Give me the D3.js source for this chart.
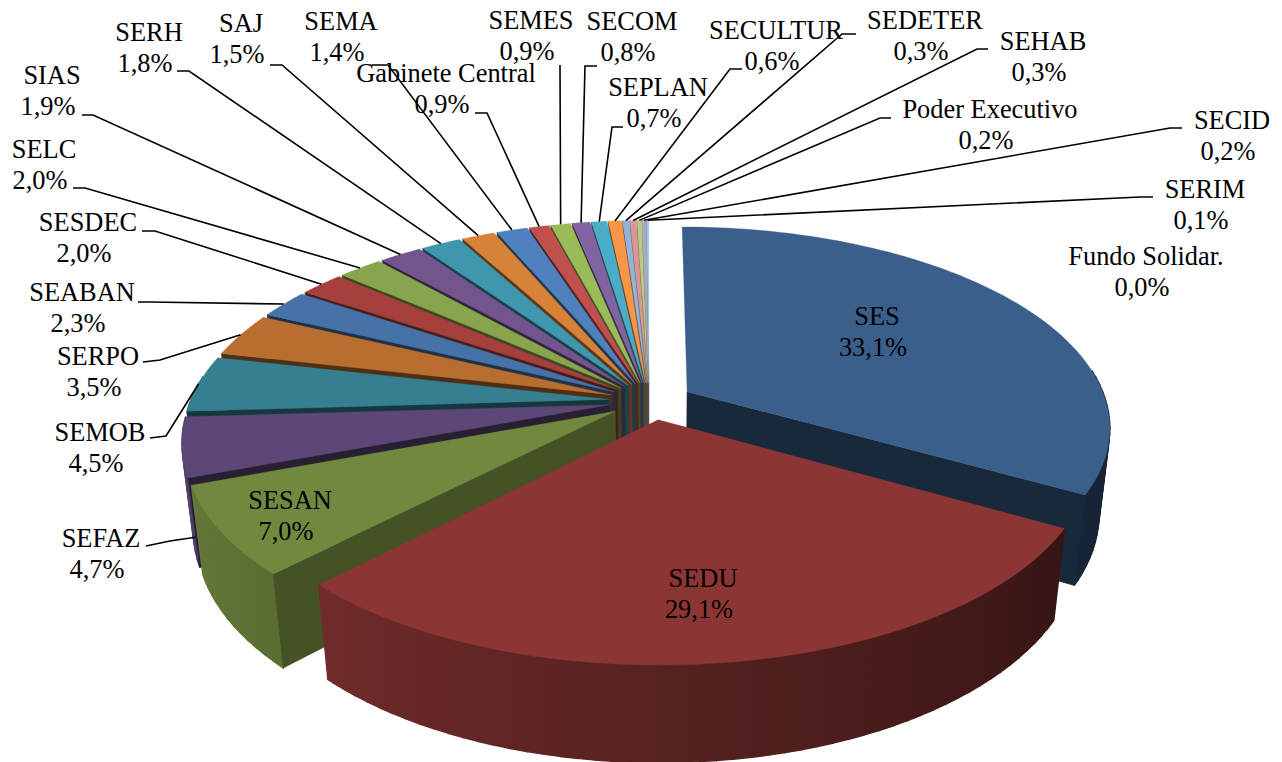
<!DOCTYPE html>
<html>
<head>
<meta charset="utf-8">
<script src="https://cdn.jsdelivr.net/npm/d3@7"></script>
<style>
  html, body { margin: 0; padding: 0; background: #fff; overflow: hidden; }
  text { font-family: "Liberation Serif", serif; font-size: 26.4px; fill: #000; text-anchor: middle; }
</style>
</head>
<body>
<div id="chart"></div>
<script>
// Chart data
var names = ["SES", "SEDU", "SESAN", "SEFAZ", "SEMOB", "SERPO", "SEABAN", "SESDEC", "SELC", "SIAS", "SERH", "SAJ",
  "SEMA", "Gabinete Central", "SEMES", "SECOM", "SEPLAN", "SECULTUR", "SEDETER", "SEHAB", "Poder Executivo",
  "SECID", "SERIM", "Fundo Solidar."];
var values = [33.1, 29.1, 7.0, 4.7, 4.5, 3.5, 2.3, 2.0, 2.0, 1.9, 1.8, 1.5, 1.4, 0.9, 0.9, 0.8, 0.7, 0.6, 0.3, 0.3, 0.2, 0.2, 0.1, 0.0];
var colors = ["#3a5f8b", "#8b3635", "#71893f", "#5c4776", "#357f91", "#b86e2f", "#4672a8", "#a5403d", "#88a44c", "#72558f",
  "#3f97ae", "#d68239", "#4f81bd", "#c0504d", "#9bbb59", "#8064a2", "#4bacc6", "#f79646", "#95b3d7", "#d99694",
  "#b3cc82", "#b2a2c7", "#92cddc", "#fac090"];

// Where each label sits (centre x, first baseline y)
var labelX = [877, 703, 290, 101, 100, 98, 82, 88, 44, 52, 149, 241, 341, 446, 531, 632, 658, 776, 925, 1043, 990, 1232, 1205, 1146];
var labelY = [325, 587, 509, 547, 441, 365, 301, 231, 158, 84, 41, 32, 30, 82, 29, 30, 96, 39, 29, 50, 118, 129, 198, 265];

// Leader lines: start of the little horizontal bit and the elbow. null = no leader
var leaders = [null, null, null,
  [146, 546, 170, 541], [150, 438, 166, 436], [143, 362, 160, 360], [138, 302, 150, 302], [142, 231, 155, 231],
  [73, 188, 85, 188], [82, 115, 93, 115], [177, 71, 189, 71], [270, 65, 282, 65], [372, 65, 388, 65],
  [475, 113, 487, 113], [560, 65, 560, 66], [597, 66, 585, 66], [623, 127, 612, 127], [742, 69, 730, 69],
  [856, 34, 842, 34], [988, 49, 977, 49], [891, 118, 880, 118], [1182, 128, 1170, 128], [1153, 197, 1140, 197], null];

var svgWidth = 1282;
var svgHeight = 762;

// 3D pie setup: centre, radii, perspective, thickness, explosion
var cx = 649, cy = 401, radiusX = 419, radiusY = 196;
var camera = 5.83, camDrop = 0.14, thickness = 88, explode = 0.095;

var svg = d3.select("#chart")
  .append("svg")
  .attr("width", svgWidth)
  .attr("height", svgHeight);

var defs = svg.append("defs");

var pie = d3.pie().sort(null).value(d => d);
var arcs = pie(values);

// Project a point of a slice on the screen. z=0 is the top face, z=1 the bottom
function project(d, angle, r, z) {
  var mid = (d.startAngle + d.endAngle) / 2;
  var X = r * Math.sin(angle) + explode * Math.sin(mid);
  var Y = -r * Math.cos(angle) - explode * Math.cos(mid);
  var s = camera / (camera - Y + camDrop * z);
  // the two big slices sit a few pixels further right
  var nudge = d.index === 0 ? 4 : d.index === 1 ? 3.5 : 0;
  return [cx + nudge + radiusX * X * s, cy + (radiusY * Y + thickness * z) * s];
}

function darken(color, k) {
  return d3.interpolateRgb("#000", color)(k);
}

// Outer wall shade follows the angle, as the light comes from the left
var wallShade = d3.scaleLinear()
  .domain([119, 224, 270])
  .range([0.38, 0.8, 0.95])
  .clamp(true);

var line = d3.line();

function face(g, pts, fill, strokeWidth) {
  g.append("path")
    .attr("d", line(pts) + "Z")
    .attr("fill", fill)
    .attr("stroke", fill)
    .attr("stroke-width", strokeWidth);
}

// Outer wall gets a left to right gradient built from the shade above
function wallGradient(d, angles) {
  var xs = angles.map(a => project(d, a, 1, 0)[0]);
  var x0 = d3.min(xs), x1 = d3.max(xs);
  var grad = defs.append("linearGradient")
    .attr("id", "wall" + d.index)
    .attr("gradientUnits", "userSpaceOnUse")
    .attr("x1", x0).attr("x2", x1)
    .attr("y1", 0).attr("y2", 0);
  var stops = angles.map((a, i) => ({
    offset: (xs[i] - x0) / (x1 - x0),
    color: darken(colors[d.index], wallShade(a * 180 / Math.PI))
  })).sort((a, b) => a.offset - b.offset);
  stops.forEach(function (s) {
    grad.append("stop").attr("offset", s.offset).attr("stop-color", s.color);
  });
  return "url(#wall" + d.index + ")";
}

// Paint from the back to the front
var order = arcs
  .filter(d => d.value > 0)
  .sort((a, b) => Math.cos((b.startAngle + b.endAngle) / 2) - Math.cos((a.startAngle + a.endAngle) / 2));

order.forEach(function (d) {
  var g = svg.append("g");
  var color = colors[d.index];
  var inner = darken(color, d.index === 2 ? 0.6 : 0.43);

  // Outer wall, only the part that can be seen (front half and a bit).
  // Drawn in strips since the band folds over itself at the left and right ends
  var visible = d3.range(d.startAngle, d.endAngle, Math.PI / 90)
    .concat([d.endAngle])
    .filter(a => Math.cos(a) < 0.12);
  if (visible.length > 1) {
    var fill = wallGradient(d, visible);
    d3.pairs(visible).forEach(function (p) {
      face(g, [project(d, p[0], 1, 0), project(d, p[1], 1, 0), project(d, p[1], 1, 1), project(d, p[0], 1, 1)], fill, 1.4);
    });
  }

  // Radial walls, only the ones facing the viewer
  [d.startAngle, d.endAngle].forEach(function (a) {
    var facing = a === d.startAngle ? Math.sin(a) < 0 : Math.sin(a) > 0;
    if (!facing) return;
    face(g, [project(d, a, 0, 0), project(d, a, 1, 0), project(d, a, 1, 1), project(d, a, 0, 1)], inner, 0.6);
  });

  // Top face
  var top = [project(d, d.startAngle, 0, 0)];
  var fine = d3.range(d.startAngle, d.endAngle, Math.PI / 180).concat([d.endAngle]);
  fine.forEach(a => top.push(project(d, a, 1, 0)));
  face(g, top, color, 0.3);
});

// Leader lines
arcs.forEach(function (d, i) {
  if (!leaders[i]) return;
  var l = leaders[i];
  var end = i === 3
    ? project(d, d.startAngle + 0.01, 1, 0.68)
    : project(d, (d.startAngle + d.endAngle) / 2, 1, 0);
  svg.append("path")
    .attr("d", line([[l[0], l[1]], [l[2], l[3]], end]))
    .attr("fill", "none")
    .attr("stroke", "#000")
    .attr("stroke-width", 1.6);
});

// Labels
arcs.forEach(function (d, i) {
  var label = svg.append("text");
  label.append("tspan")
    .attr("x", labelX[i])
    .attr("y", labelY[i])
    .text(names[i]);
  label.append("tspan")
    .attr("x", labelX[i] - 4)
    .attr("y", labelY[i] + 31)
    .text(values[i].toFixed(1).replace(".", ",") + "%");
});
</script>
</body>
</html>
